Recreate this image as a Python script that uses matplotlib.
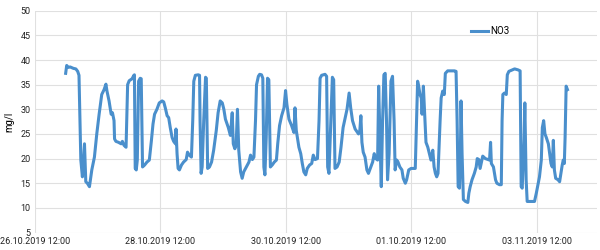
import matplotlib
matplotlib.use("Agg")
import matplotlib.pyplot as plt

# hours since 26.10.2019 12:00
hours = [
    11.8, 12.2, 12.8, 13.5, 14.8, 15.7, 16.4, 16.9, 17.6, 18.2, 19.0, 19.5, 20.1, 20.9,
    21.8, 22.8, 23.7, 24.6, 25.6, 26.5, 27.2, 27.6, 28.4, 29.2, 29.7, 30.3, 30.5, 31.0,
    32.0, 33.0, 33.5, 34.1, 34.9, 35.5, 36.1, 37.2, 37.9, 38.1, 38.4, 38.8, 39.2, 39.7,
    40.3, 40.7, 41.2, 42.0, 42.9, 43.8, 44.6, 45.2, 45.8, 46.7, 47.6,
    48.7, 49.3, 49.9, 50.6, 51.2, 51.8, 52.5, 53.1, 53.8, 54.0, 54.4, 54.8, 55.3, 56.1,
    56.9, 57.9, 58.4, 59.1, 59.9, 60.4, 60.8, 61.4, 62.5, 63.0, 63.2, 63.6, 64.0, 64.6,
    65.3, 65.6, 66.1, 66.8, 67.6, 68.4, 69.4, 70.1, 70.9, 71.7, 72.3, 72.9, 74.0, 74.8,
    75.5, 75.9, 76.5, 77.0, 77.5, 78.0, 78.7, 79.3, 79.9, 80.9, 81.9, 82.5, 83.2, 83.8,
    84.4, 84.8, 85.5,
    86.0, 86.7, 87.2, 87.6, 88.0, 88.5, 89.0, 89.5, 90.1, 90.8, 91.6, 92.4, 92.9, 93.6,
    94.4, 95.3, 95.9, 96.4, 97.2, 98.2, 99.1, 99.5, 100.0, 101.0, 101.7, 102.3, 102.9,
    103.6, 104.2, 105.1, 105.9, 106.5, 107.2, 108.1, 108.7, 109.1, 109.7, 111.0, 111.6,
    112.0, 112.5, 113.2, 113.8, 114.3, 114.8, 115.6, 116.4, 117.1, 117.9, 118.7, 119.4,
    120.2, 120.8, 121.5, 122.5, 123.4,
    123.8, 124.3, 124.7, 125.1, 125.6, 126.3, 127.0, 127.6, 128.5, 129.2, 129.8, 130.4,
    131.1, 131.5, 132.0, 132.5, 133.0, 133.5, 134.0, 134.5, 134.9, 135.5, 136.2, 136.8,
    137.4, 137.8, 138.4, 138.9, 139.6, 140.4, 140.9, 141.7, 142.2, 143.0, 143.9, 144.7,
    145.5, 146.0, 146.4, 146.8, 147.3, 147.8, 148.1, 148.6, 149.1, 149.6, 150.3, 150.9,
    151.5, 152.2, 152.7, 153.2, 153.7, 154.2, 155.0, 155.4, 156.0, 156.6, 157.0, 157.9,
    159.2, 160.5, 161.1,
    161.5, 161.9, 162.4, 162.8, 163.0, 163.4, 163.9, 164.7, 165.6, 166.0, 166.5, 167.2,
    168.1, 168.8, 169.2, 169.8, 170.3, 170.7, 171.3, 172.3, 173.3, 173.9, 174.3, 174.6,
    175.4, 176.2, 176.7, 177.7, 178.4, 178.7, 179.0, 179.6, 180.3, 180.7, 181.3, 182.6,
    183.5, 184.8, 185.6, 186.0, 186.4, 187.1, 187.4, 187.9, 188.3, 189.2, 191.1, 191.8,
    192.4, 193.0, 193.7, 194.1, 194.6, 195.1, 195.6, 196.4, 196.9, 197.4, 197.9, 198.3,
    198.7, 199.2, 200.1, 200.7, 201.2, 201.7, 202.1, 202.5, 202.8, 203.2, 203.7,
]

no3 = [
    37.3, 38.9, 38.5, 38.6, 38.3, 38.2, 37.7, 36.9, 19.7, 16.3, 23.0, 15.3, 15.0, 14.3,
    17.7, 20.3, 25.0, 29.0, 33.0, 34.0, 35.1, 33.7, 31.7, 29.0, 29.3, 27.7, 24.0, 23.5,
    23.3, 23.0, 23.5, 22.7, 22.3, 35.0, 35.8, 36.2, 36.9, 37.0, 18.0, 17.7, 19.7, 35.7,
    36.3, 36.2, 18.3, 18.7, 19.3, 19.7, 23.7, 27.0, 29.0, 30.0, 31.3,
    31.7, 31.5, 30.3, 28.7, 28.3, 26.3, 24.3, 23.5, 23.0, 26.0, 21.0, 18.0, 17.7, 18.7,
    19.3, 19.8, 21.3, 20.7, 20.3, 27.7, 35.7, 36.9, 37.0, 36.9, 27.7, 17.0, 18.3, 27.7,
    36.5, 36.3, 18.0, 18.3, 19.3, 21.7, 25.7, 29.3, 31.7, 31.3, 30.0, 28.0, 26.3, 24.7,
    29.3, 23.0, 22.0, 22.7, 30.0, 21.7, 17.3, 16.0, 17.3, 18.3, 19.3, 20.7, 19.8, 20.3,
    27.7, 35.0, 36.7,
    37.1, 37.0, 36.3, 18.3, 16.7, 24.3, 36.3, 36.0, 18.3, 18.7, 19.3, 19.7, 23.0, 26.7,
    28.7, 30.3, 33.8, 31.0, 28.0, 26.7, 25.3, 30.3, 25.7, 22.3, 21.0, 19.0, 17.3,
    16.7, 18.0, 18.7, 19.0, 20.7, 19.8, 20.0, 27.7, 36.3, 36.9, 37.1, 36.7,
    18.3, 17.0, 27.7, 36.5, 36.0, 18.0, 18.3, 19.3, 22.3, 26.3, 28.3, 30.0,
    33.3, 30.3, 27.7, 26.0, 25.3,
    25.0, 25.7, 28.7, 23.3, 21.3, 20.3, 17.7, 17.0, 18.3, 19.3, 21.0, 20.0,
    19.7, 34.7, 24.3, 14.3, 27.7, 37.0, 37.3, 27.7, 15.7, 21.0, 35.7, 36.7,
    27.7, 17.7, 19.7, 19.3, 18.3, 17.7, 16.0, 15.0, 15.7, 17.7, 18.0, 18.0,
    18.0, 27.7, 35.7, 34.7, 33.0, 32.3, 29.0, 34.7, 29.0, 23.3, 22.3, 21.0,
    19.7, 21.7, 18.3, 17.0, 16.3, 17.0, 27.7, 32.3, 33.7, 33.0, 37.3, 37.8,
    37.8, 37.8, 37.7,
    27.7, 14.3, 14.0, 23.0, 31.7, 21.0, 11.7, 11.3, 11.1, 13.0, 14.3, 15.7,
    17.0, 18.3, 20.0, 19.8, 18.0, 19.0, 20.5, 20.0, 19.8, 19.7, 23.3, 19.0,
    18.3, 15.7, 15.0, 14.7, 14.7, 27.7, 33.0, 33.3, 33.0, 37.0, 37.7, 38.0,
    38.2, 38.0, 37.8, 14.3, 14.0, 23.7, 31.3, 15.7, 11.3, 11.3, 11.3, 13.0,
    14.7, 16.3, 19.7, 26.3, 27.7, 25.0, 24.3, 23.0, 21.0, 19.0, 18.3, 23.7,
    17.7, 16.0, 15.7, 15.3, 17.0, 18.7, 19.7, 19.0, 24.3, 34.7, 34.0,
]

tick_hours = [0, 48, 96, 144, 192]
tick_labels = ["26.10.2019 12:00", "28.10.2019 12:00", "30.10.2019 12:00",
               "01.10.2019 12:00", "03.11.2019 12:00"]

plt.rcParams['font.family'] = ['Roboto', 'DejaVu Sans']

fig = plt.figure(figsize=(6, 2.5), dpi=100)
ax = fig.add_axes([0.058, 0.07, 0.937, 0.887])

ax.plot(hours, no3, color='#4A8FCC', linewidth=2.2, label='NO3',
        solid_joinstyle='round')

ax.set_xlim(0, 215)
ax.set_ylim(5, 50)
ax.set_yticks(range(5, 51, 5))
ax.set_xticks(tick_hours)
ax.set_xticklabels(tick_labels)
ax.tick_params(axis='both', length=0, labelsize=6.5, colors='#222222', pad=3)
ax.set_ylabel('mg/l', fontsize=7, labelpad=4)

ax.grid(True, color='#e0e0e0', linewidth=0.8)
ax.set_axisbelow(True)
for s in ax.spines.values():
    s.set_visible(False)

ax.legend(loc='upper left', bbox_to_anchor=(0.76, 0.97), frameon=False,
          fontsize=7, handlelength=1.8, handletextpad=0.2)

fig.savefig('out.png', dpi=100)
